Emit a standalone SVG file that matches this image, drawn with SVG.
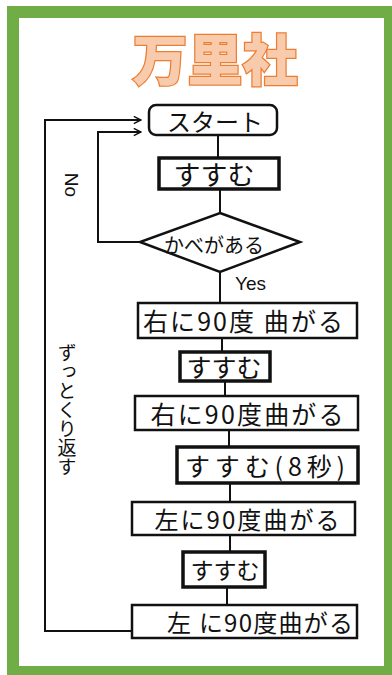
<svg xmlns="http://www.w3.org/2000/svg" width="392" height="675" viewBox="0 0 392 675">
<style>
.box{fill:#fff;stroke:#111;stroke-width:2.5}
.thick{stroke-width:3.5}
.ln{fill:none;stroke:#111;stroke-width:2}
.t{font-family:"Noto Sans CJK JP","Noto Sans",sans-serif;fill:#111;text-anchor:middle;dominant-baseline:central}
.lbl{font-family:"Liberation Sans","Noto Sans",sans-serif;fill:#111}
</style>
<defs>
<marker id="arr" viewBox="0 0 10 10" refX="9" refY="5" markerWidth="9" markerHeight="9" markerUnits="userSpaceOnUse" orient="auto">
<path d="M1,1 L9,5 L1,9" fill="none" stroke="#111" stroke-width="1.6"/>
</marker>
</defs>
<rect x="7" y="6" width="385" height="669" fill="#70AD47"/>
<rect x="19" y="18" width="365" height="648" fill="#fff"/>
<text x="215" y="56" class="t" style="font-size:55px;font-weight:900;fill:#F8CBAD;stroke:#ED7D31;stroke-width:2.5px;paint-order:stroke">万里社</text>
<g id="connectors">
<line class="ln" x1="218" y1="135" x2="218" y2="158"/>
<line class="ln" x1="220" y1="189" x2="220" y2="213"/>
<line class="ln" x1="220" y1="272" x2="220" y2="303"/>
<polyline class="ln" points="140,242 98,242 98,132 141,132" marker-end="url(#arr)"/>
<polyline class="ln" points="132,631 45,631 45,120 141,120" marker-end="url(#arr)"/>
<line class="ln" x1="222" y1="338" x2="222" y2="352"/>
<line class="ln" x1="225" y1="381" x2="225" y2="396"/>
<line class="ln" x1="229" y1="430" x2="229" y2="447"/>
<line class="ln" x1="230" y1="483" x2="230" y2="502"/>
<line class="ln" x1="230" y1="535" x2="230" y2="552"/>
<line class="ln" x1="227" y1="587" x2="227" y2="605"/>
<text class="lbl" x="71" y="185" text-anchor="middle" dominant-baseline="central" font-size="19" transform="rotate(90 71 185)">No</text>
<text class="lbl" x="235" y="290" font-size="19">Yes</text>
<text class="t" x="67" y="343" style="font-size:19px;writing-mode:vertical-rl;text-anchor:start;dominant-baseline:auto">ずっとくり返す</text>
</g>
<g id="start">
<rect class="box" x="149" y="105" width="128" height="30" rx="7"/>
<text class="t" x="215" y="120" font-size="24" textLength="96" lengthAdjust="spacing">スタート</text>
</g>
<g id="move1">
<rect class="box thick" x="159" y="158" width="120" height="31"/>
<text class="t" x="214" y="173" font-size="27">すすむ</text>
</g>
<g id="wall">
<polygon class="box" points="220,213 300,242 220,272 140,242"/>
<text class="t" x="214" y="244" font-size="20">かべがある</text>
</g>
<g id="turnright1">
<rect class="box" x="138" y="303" width="219" height="35"/>
<text class="t" x="243" y="320" font-size="25" textLength="200" lengthAdjust="spacing">右に90度 曲がる</text>
</g>
<g id="move2">
<rect class="box thick" x="180" y="352" width="90" height="29"/>
<text class="t" x="224" y="366" font-size="25">すすむ</text>
</g>
<g id="turnright2">
<rect class="box" x="135" y="396" width="223" height="34"/>
<text class="t" x="247" y="413" font-size="25" textLength="193" lengthAdjust="spacing">右に90度曲がる</text>
</g>
<g id="move3">
<rect class="box thick" x="177" y="447" width="181" height="36"/>
<text class="t" x="265" y="465" font-size="25" textLength="160" lengthAdjust="spacing">すすむ(8秒)</text>
</g>
<g id="turnleft1">
<rect class="box" x="132" y="502" width="223" height="33"/>
<text class="t" x="247" y="518" font-size="24" textLength="185" lengthAdjust="spacing">左に90度曲がる</text>
</g>
<g id="move4">
<rect class="box thick" x="183" y="552" width="82" height="35"/>
<text class="t" x="225" y="569" font-size="23">すすむ</text>
</g>
<g id="turnleft2">
<rect class="box" x="132" y="605" width="225" height="33"/>
<text class="t" x="260" y="621" font-size="24" textLength="186" lengthAdjust="spacing">左 に90度曲がる</text>
</g>
</svg>
